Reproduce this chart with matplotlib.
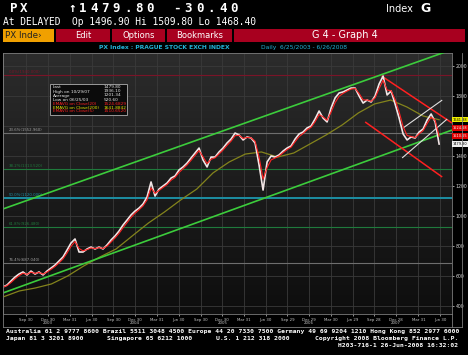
import numpy as np
import pandas as pd
import matplotlib
matplotlib.use('Agg')
import matplotlib.pyplot as plt
import matplotlib.transforms as mtrans
from matplotlib.patches import Rectangle
from matplotlib.lines import Line2D
from matplotlib.colors import LinearSegmentedColormap

W, H = 468, 355

# PX index close (about every 17 days, 6/25/2003 - 6/26/2008)
px_close = [527, 540, 567, 593, 613, 627, 607, 633, 613, 627,
            607, 633, 653, 673, 700, 727, 773, 820, 847, 760,
            760, 780, 793, 780, 793, 780, 807, 840, 867, 900,
            940, 973, 1007, 1033, 1053, 1080, 1127, 1227, 1133, 1180,
            1200, 1220, 1253, 1267, 1307, 1327, 1353, 1387, 1420, 1453,
            1373, 1327, 1393, 1393, 1427, 1453, 1487, 1513, 1553, 1540,
            1507, 1527, 1520, 1487, 1340, 1173, 1360, 1400, 1393, 1407,
            1433, 1453, 1467, 1513, 1547, 1560, 1587, 1600, 1647, 1700,
            1653, 1627, 1720, 1787, 1820, 1827, 1840, 1853, 1853, 1800,
            1753, 1773, 1760, 1800, 1880, 1933, 1807, 1833, 1747, 1653,
            1547, 1507, 1527, 1520, 1560, 1580, 1640, 1680, 1627, 1479.80]

# 200 day moving average (olive line)
ma200 = [460, 500, 520, 547, 600, 667, 727, 780, 867, 953, 1027, 1107, 1180, 1287,
         1360, 1413, 1427, 1393, 1420, 1480, 1540, 1607, 1687, 1747, 1773, 1727, 1667, 1641.88]

# trend channels: (dates, values)
green_up = (['2003-06-25', '2008-07-21'], [1047, 2093])
green_low = (['2003-06-25', '2008-08-19'], [487, 1573])
red_up = (['2007-10-29', '2008-08-19'], [1933, 1620])
red_low = (['2007-08-21', '2008-07-09'], [1627, 1260])
white_up = (['2008-01-27', '2008-07-09'], [1587, 1773])
white_low = (['2008-01-23', '2008-07-30'], [1387, 1647])

# fibonacci retracement
fib_high = 1940.0
fib_low = 300.0
fib_pcts = [0.0, 23.6, 38.2, 50.0, 61.8, 76.4]
fib_colors = ['#7a1428', '#6e6e6e', '#1f7a3c', '#1d8fa3', '#1f7a3c', '#6e6e6e']
fib_widths = [0.8, 0.8, 0.8, 1.4, 0.8, 0.8]

y_ticks = [2000, 1800, 1600, 1400, 1200, 1000, 800, 600, 400]
y_labels = ['2000', '1800', '', '1400', '1200', '1000', '800', '600', '400']  # 1600 hidden under tags
x_ticks = ['2003-09-30', '2003-12-30', '2004-03-31', '2004-06-30', '2004-09-30', '2004-12-30',
           '2005-03-31', '2005-06-30', '2005-09-30', '2005-12-30', '2006-03-31', '2006-06-30',
           '2006-09-29', '2006-12-29', '2007-03-30', '2007-06-29', '2007-09-28', '2007-12-28',
           '2008-03-31', '2008-06-30']
x_labels = ['Sep 30', 'Dec 30', 'Mar 31', 'Jun 30', 'Sep 30', 'Dec 30', 'Mar 31', 'Jun 30',
            'Sep 30', 'Dec 30', 'Mar 31', 'Jun 30', 'Sep 29', 'Dec 29', 'Mar 30', 'Jun 29',
            'Sep 28', 'Dec 28', 'Mar 31', 'Jun 30']
year_pos = ['2003-12-30', '2004-12-30', '2005-12-30', '2006-12-29', '2007-12-28']
year_labels = ['2003', '2004', '2005', '2006', '2007']

stats = [('Last', '1479.80', '#e8e8e8'),
         ('High on 10/29/07', '1936.10', '#e8e8e8'),
         ('Average', '1201.34', '#e8e8e8'),
         ('Low on 06/25/03', '520.60', '#e8e8e8'),
         ('EMAVG on Close(20)', '1524.6829', '#ff2020'),
         ('EMAVG on Close(200)', '1641.8842', '#e8e800'),
         ('EMAVG on Close(5)', '1510.6520', '#ff2020')]


def fx(x):
    return x / W


def fy(y):
    return 1 - y / H


fig = plt.figure(figsize=(W / 100, H / 100), dpi=100, facecolor='black')

# ---- header ----
mono = 'DejaVu Sans Mono'


def spaced(x0, y, s, pitch, **kw):
    for i, ch in enumerate(s):
        fig.text(fx(x0 + i * pitch), fy(y), ch, ha='left', va='center', **kw)


big = dict(family=mono, fontsize=9, fontweight='bold', color='white')
spaced(10, 8.5, 'PX', 10, **big)
spaced(68, 8.5, '\u21911479.80', 11.2, **big)
spaced(173, 8.5, '-30.40', 11.5, **big)
fig.text(fx(386), fy(8.5), 'Index', fontsize=7, color='white', va='center')
fig.text(fx(420), fy(8.5), 'G', fontsize=9, fontweight='bold', color='white', va='center')
fig.text(fx(3), fy(22), 'At DELAYED  Op 1496.90 Hi 1509.80 Lo 1468.40',
         family=mono, fontsize=6.9, color='white', va='center')

# menu bar
menu = [(3, 54, 'PX Inde\u203a', '#f0a000', '#222222'),
        (56, 110, 'Edit', '#a8001f', 'white'),
        (112, 165, 'Options', '#a8001f', 'white'),
        (167, 232, 'Bookmarks', '#a8001f', 'white'),
        (234, 465, 'G 4 - Graph 4', '#a8001f', 'white')]
for x0, x1, label, fc, tc in menu:
    fig.add_artist(Rectangle((fx(x0), fy(42)), (x1 - x0) / W, 13 / H,
                             transform=fig.transFigure, fc=fc, ec='none'))
    if label.startswith('PX'):
        fig.text(fx(x0 + 2), fy(35.5), label, fontsize=6.3, color=tc, va='center')
    elif label.startswith('G 4'):
        fig.text(fx(345), fy(35.5), label, fontsize=7, color=tc, va='center', ha='center')
    else:
        fig.text(fx((x0 + x1) / 2), fy(35), label, fontsize=6, color=tc, va='center', ha='center')

fig.text(fx(230), fy(47.5), 'PX Index : PRAGUE STOCK EXCH INDEX', fontsize=4.3,
         color='#22b4d8', ha='right', va='center', fontweight='bold')
fig.text(fx(261), fy(47.5), 'Daily  6/25/2003 - 6/26/2008', fontsize=4.3,
         color='#22b4d8', ha='left', va='center')

# ---- chart ----
rect = [fx(3), fy(314), 449 / W, 261 / H]
bg = fig.add_axes(rect, zorder=0)
bg.imshow(np.linspace(0, 1, 200).reshape(-1, 1), aspect='auto', extent=[0, 1, 0, 1],
          cmap=LinearSegmentedColormap.from_list('bb', ['#2c2c2c', '#1c1c1c', '#0e0e0e']))
bg.axis('off')

ax = fig.add_axes(rect, zorder=1)
ax.patch.set_alpha(0)

dates = pd.date_range('2003-06-25', '2008-06-26', periods=len(px_close))
ma_dates = pd.date_range('2003-06-25', '2008-06-26', periods=len(ma200))
close = pd.Series(px_close, index=dates)
ema_short = close.ewm(span=2, adjust=False).mean()

xmin, xmax = pd.Timestamp('2003-06-25'), pd.Timestamp('2008-08-19')
ymin, ymax = 346.7, 2086.7

for p, c, lw in zip(fib_pcts, fib_colors, fib_widths):
    v = fib_high - p / 100 * (fib_high - fib_low)
    ax.axhline(v, color=c, lw=lw, zorder=2)
    ax.text(0.012, v + 8, '%.1f%%(%.3f)' % (p, v),
            transform=mtrans.blended_transform_factory(ax.transAxes, ax.transData),
            fontsize=2.8, color=c if p not in (23.6, 76.4) else '#a0a0a0', va='bottom', zorder=3)

ax.plot(ma_dates, ma200, color='#84841c', lw=0.9, zorder=4)
for (d, v), c, lw in [(green_up, '#3ccc3c', 1.2), (green_low, '#3ccc3c', 1.2),
                      (red_up, '#ff2020', 1.1), (red_low, '#ff2020', 1.1),
                      (white_up, '#e0e0e0', 0.8), (white_low, '#e0e0e0', 0.8)]:
    ax.plot(pd.to_datetime(d), v, color=c, lw=lw, zorder=5, solid_capstyle='butt')

ax.plot(dates, close, color='#f2e6e6', lw=1.2, zorder=6)
ax.plot(dates, ema_short, color='#ff2222', lw=0.8, zorder=7)

ax.set_xlim(xmin, xmax)
ax.set_ylim(ymin, ymax)
ax.set_yticks(y_ticks)
ax.set_yticklabels(y_labels)
ax.yaxis.tick_right()
ax.set_xticks(pd.to_datetime(x_ticks))
ax.set_xticklabels(x_labels)
ax.tick_params(axis='y', labelsize=3.3, colors='#d8d8d8', length=1.5, width=0.5, pad=1)
ax.tick_params(axis='x', labelsize=2.8, colors='#c8c8c8', length=1.5, width=0.5, pad=1.5)
ax.grid(True, color='#3a3a3a', lw=0.6, zorder=1)
for s in ax.spines.values():
    s.set_color('#7a7a7a')
    s.set_linewidth(0.6)

for d, lab in zip(year_pos, year_labels):
    ax.text(pd.Timestamp(d), -0.034, lab, transform=mtrans.blended_transform_factory(ax.transData, ax.transAxes),
            fontsize=2.8, color='#c8c8c8', ha='center', va='center')

# value tags on the right axis, stacked so they do not overlap
tags = [(1479.80, '1479.80', '#f0f0f0', 'black'),
        (1510.6520, '1510.65', '#e00000', 'white'),
        (1524.6829, '1524.68', '#e00000', 'white'),
        (1641.8842, '1641.88', '#f0f000', 'black')]
prev = None
for v, lab, fc, tc in tags:
    pos = v if prev is None else max(v, prev + 53)
    prev = pos
    ax.text(1.002, pos, lab, transform=mtrans.blended_transform_factory(ax.transAxes, ax.transData),
            fontsize=2.5, color=tc, va='center', ha='left', clip_on=False, zorder=10,
            bbox=dict(boxstyle='square,pad=0.2', fc=fc, ec='none'))

# frame around chart + axis strips
for xs, ys in [([3, 462], [327, 327]), ([3, 3], [53, 327]), ([462, 462], [53, 327]),
               ([452, 452], [314, 327])]:
    fig.add_artist(Line2D([fx(v) for v in xs], [fy(v) for v in ys], color='#7a7a7a', lw=0.6))

# stats box
fig.add_artist(Rectangle((fx(50), fy(115)), 77 / W, 31 / H, transform=fig.transFigure,
                         fc='#0b0b0b', ec='#9a9a9a', lw=0.7, zorder=8))
for i, (name, val, c) in enumerate(stats):
    yy = 87.5 + i * 4
    fig.text(fx(53), fy(yy), name, fontsize=3.1, color=c, va='center', zorder=9)
    fig.text(fx(104), fy(yy), val, fontsize=3.1, color=c, va='center', zorder=9)

# ---- footer ----
foot = dict(family=mono, fontsize=4.6, color='white', fontweight='bold', va='center')
fig.text(fx(6), fy(331.5), 'Australia 61 2 9777 8600 Brazil 5511 3048 4500 Europe 44 20 7330 7500 '
         'Germany 49 69 9204 1210 Hong Kong 852 2977 6000', **foot)
fig.text(fx(6), fy(338.5), 'Japan 81 3 3201 8900', **foot)
fig.text(fx(107), fy(338.5), 'Singapore 65 6212 1000', **foot)
fig.text(fx(216), fy(338.5), 'U.S. 1 212 318 2000', **foot)
fig.text(fx(458), fy(338.5), 'Copyright 2008 Bloomberg Finance L.P.', ha='right', **foot)
fig.text(fx(458), fy(345.5), 'H203-716-1 26-Jun-2008 16:32:02', ha='right', **foot)

fig.savefig('out.png', dpi=100, facecolor='black')
